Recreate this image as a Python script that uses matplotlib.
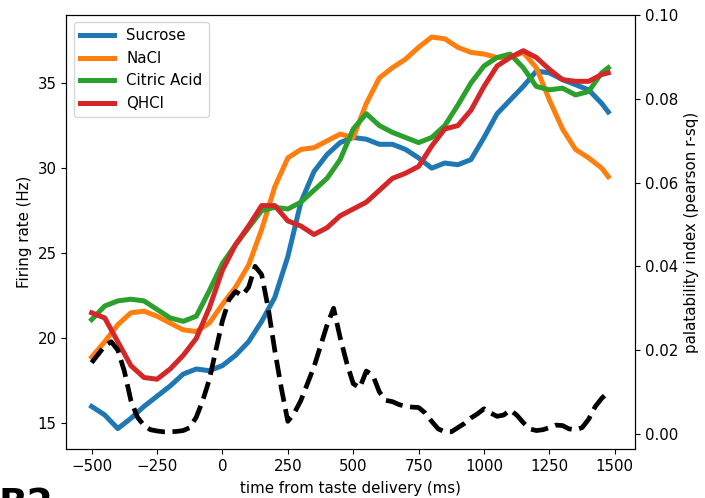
import matplotlib
matplotlib.use("Agg")
import matplotlib.pyplot as plt
import numpy as np

time_ms = [-500, -450, -400, -350, -300, -250, -200, -150, -100, -50,
           0, 50, 100, 150, 200, 250, 300, 350, 400, 450,
           500, 550, 600, 650, 700, 750, 800, 850, 900, 950,
           1000, 1050, 1100, 1150, 1200, 1250, 1300, 1350, 1400, 1450, 1475]

sucrose = [16.0, 15.5, 14.7, 15.3, 16.0, 16.6, 17.2, 17.9, 18.2, 18.1,
           18.4, 19.0, 19.8, 21.0, 22.4, 24.8, 28.0, 29.8, 30.8, 31.5,
           31.8, 31.7, 31.4, 31.4, 31.1, 30.6, 30.0, 30.3, 30.2, 30.5,
           31.8, 33.2, 34.0, 34.8, 35.7, 35.6, 35.2, 34.9, 34.6, 33.8, 33.3]

nacl = [18.9, 19.8, 20.8, 21.5, 21.6, 21.3, 20.9, 20.5, 20.4, 20.9,
        22.0, 23.0, 24.3, 26.4, 28.9, 30.6, 31.1, 31.2, 31.6, 32.0,
        31.8, 33.8, 35.3, 35.9, 36.4, 37.1, 37.7, 37.6, 37.1, 36.8,
        36.7, 36.5, 36.5, 36.8, 35.9, 34.0, 32.3, 31.1, 30.6, 30.0, 29.5]

citric = [21.1, 21.9, 22.2, 22.3, 22.2, 21.7, 21.2, 21.0, 21.3, 22.8,
          24.4, 25.5, 26.5, 27.5, 27.7, 27.6, 28.0, 28.7, 29.4, 30.5,
          32.3, 33.2, 32.5, 32.1, 31.8, 31.5, 31.8, 32.5, 33.7, 35.0,
          36.0, 36.5, 36.7, 35.9, 34.8, 34.6, 34.7, 34.3, 34.5, 35.6, 35.9]

qhcl = [21.5, 21.2, 19.8, 18.4, 17.7, 17.6, 18.2, 19.0, 20.0, 21.8,
        24.0, 25.5, 26.6, 27.8, 27.8, 26.9, 26.6, 26.1, 26.5, 27.2,
        27.6, 28.0, 28.7, 29.4, 29.7, 30.1, 31.3, 32.3, 32.5, 33.4,
        34.8, 36.0, 36.5, 36.9, 36.5, 35.8, 35.2, 35.1, 35.1, 35.5, 35.6]

pal_time_ms = list(range(-500, 1500, 25))
palatability = [0.017, 0.019, 0.021, 0.022, 0.020, 0.015, 0.008, 0.004, 0.002, 0.001,
                0.0007, 0.0005, 0.0005, 0.0006, 0.0008, 0.0015, 0.004, 0.008, 0.013, 0.020,
                0.027, 0.032, 0.034, 0.033, 0.035, 0.040, 0.038, 0.030, 0.020, 0.011,
                0.003, 0.005, 0.008, 0.012, 0.016, 0.021, 0.026, 0.030, 0.023, 0.017,
                0.012, 0.011, 0.015, 0.014, 0.010, 0.008, 0.0077, 0.007, 0.0066, 0.0064,
                0.0063, 0.005, 0.003, 0.0012, 0.0005, 0.0005, 0.0015, 0.0025, 0.0038, 0.0048,
                0.006, 0.005, 0.0042, 0.0045, 0.0057, 0.0045, 0.0027, 0.0012, 0.0008, 0.0010,
                0.0015, 0.0021, 0.0020, 0.0012, 0.0010, 0.0015, 0.0035, 0.0065, 0.0085, 0.0100]

tastes = ["Sucrose", "NaCl", "Citric Acid", "QHCl"]
colors = ["#1f77b4", "#ff7f0e", "#2ca02c", "#d62728"]

plt.rcParams["font.size"] = 10.8

fig = plt.figure(figsize=(7.05, 4.98), dpi=100)
ax = fig.add_axes([0.094, 0.0984, 0.807, 0.8716])
for name, vals, c in zip(tastes, [sucrose, nacl, citric, qhcl], colors):
    ax.plot(time_ms, vals, color=c, lw=3.6, label=name)
ax.set_xlim(-597, 1578)
ax.set_ylim(13.5, 39.0)
ax.set_xticks([-500, -250, 0, 250, 500, 750, 1000, 1250, 1500])
ax.set_yticks([15, 20, 25, 30, 35])
ax.set_xlabel("time from taste delivery (ms)", labelpad=5)
ax.set_ylabel("Firing rate (Hz)")
ax.legend(loc="upper left", handlelength=2.3)

ax2 = ax.twinx()
ax2.plot(pal_time_ms, palatability, color="black", lw=3.4, ls="--")
ax2.set_ylim(-0.0036, 0.10)
ax2.set_yticks([0.0, 0.02, 0.04, 0.06, 0.08, 0.10])
ax2.set_ylabel("palatability index (pearson r-sq)")

fig.text(-0.002, 1 - 487 / 498, "B2", fontsize=27, fontweight="bold",
         ha="left", va="top")

fig.savefig("out.png", dpi=100)
